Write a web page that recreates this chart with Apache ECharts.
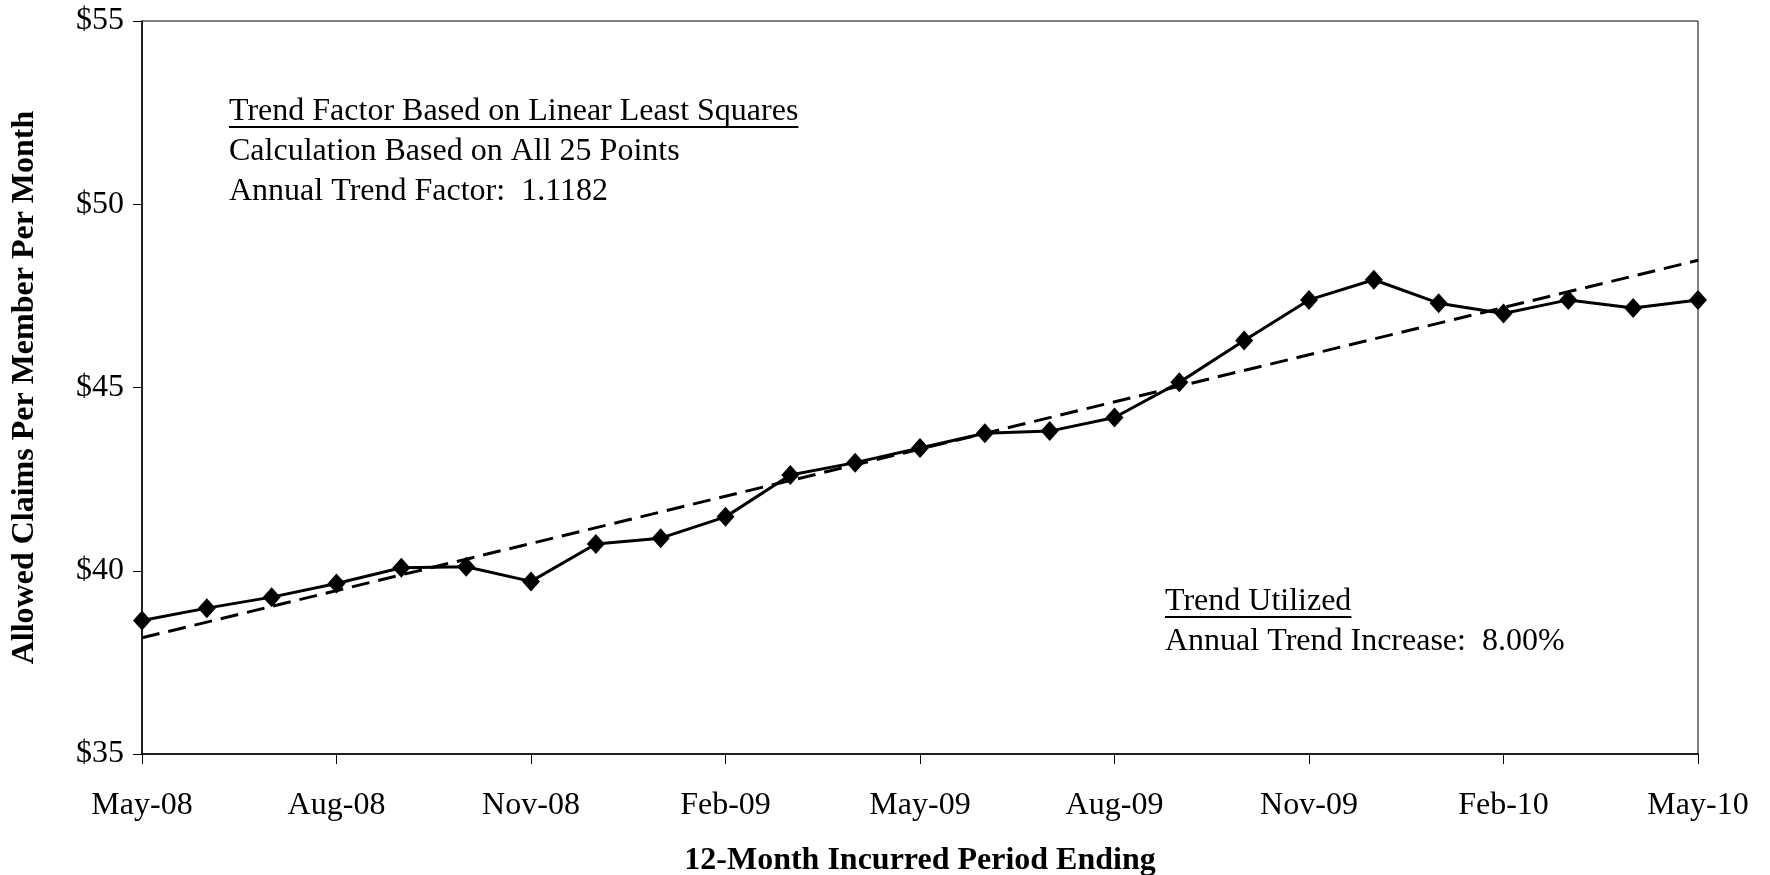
<!DOCTYPE html>
<html>
<head>
<meta charset="utf-8">
<script src="https://cdn.jsdelivr.net/npm/echarts@6/dist/echarts.min.js"></script>
<style>
html,body{margin:0;padding:0;background:#fff;}
#chart{width:1770px;height:875px;}
</style>
</head>
<body>
<div id="chart"></div>
<script>
// ---- data ----
const months = ['May-08','Jun-08','Jul-08','Aug-08','Sep-08','Oct-08','Nov-08','Dec-08','Jan-09','Feb-09','Mar-09','Apr-09','May-09','Jun-09','Jul-09','Aug-09','Sep-09','Oct-09','Nov-09','Dec-09','Jan-10','Feb-10','Mar-10','Apr-10','May-10'];
const pmpm = [38.64,38.98,39.28,39.65,40.08,40.11,39.71,40.73,40.89,41.47,42.61,42.95,43.35,43.75,43.81,44.18,45.14,46.28,47.39,47.94,47.30,47.02,47.39,47.17,47.39];
const trendStart = ['May-08', 38.17];
const trendEnd = ['May-10', 48.47];
const yTicks = [35, 40, 45, 50, 55];
const noteTop = ['Trend Factor Based on Linear Least Squares', 'Calculation Based on All 25 Points', 'Annual Trend Factor:  1.1182'];
const noteBottom = ['Trend Utilized', 'Annual Trend Increase:  8.00%'];

// ---- layout ----
const FONT = '"Liberation Serif", "Times New Roman", serif';
const FS = 32;
const ctx = document.createElement('canvas').getContext('2d');
ctx.font = FS + 'px ' + FONT;
const w1 = ctx.measureText(noteTop[0]).width;
const w2 = ctx.measureText(noteBottom[0]).width;

function txt(x, y, s) {
  return {type:'text', left:x, top:y, style:{text:s, font: FS + 'px ' + FONT, fill:'#000'}, z:10};
}
function uline(x, y, w) {
  return {type:'line', shape:{x1:x, y1:y, x2:x+w, y2:y}, style:{stroke:'#000', lineWidth:2}, z:10};
}

const chart = echarts.init(document.getElementById('chart'));
chart.setOption({
  animation:false,
  backgroundColor:'#fff',
  grid:{left:142, right:72, top:21, bottom:121, show:true, borderColor:'#000', borderWidth:1, containLabel:false, outerBoundsMode:'none'},
  xAxis:{
    type:'category', data:months, boundaryGap:false,
    axisLine:{lineStyle:{color:'#000', width:1.5}},
    axisTick:{show:true, interval:2, length:10, lineStyle:{color:'#000', width:1}},
    axisLabel:{interval:2, color:'#000', fontFamily:FONT, fontSize:FS, margin:36},
    name:'12-Month Incurred Period Ending', nameLocation:'middle', nameGap:91,
    nameTextStyle:{color:'#000', fontFamily:FONT, fontSize:32, fontWeight:'bold'}
  },
  yAxis:{
    type:'value', min:yTicks[0], max:yTicks[yTicks.length-1], interval:5,
    axisLine:{show:true, lineStyle:{color:'#000', width:1.5}},
    axisTick:{show:true, length:9, lineStyle:{color:'#000', width:1}},
    splitLine:{show:false},
    axisLabel:{color:'#000', fontFamily:FONT, fontSize:FS, margin:18, formatter:v => '$' + v},
    name:'Allowed Claims Per Member Per Month', nameLocation:'middle', nameGap:101,
    nameTextStyle:{color:'#000', fontFamily:FONT, fontSize:32, fontWeight:'bold'}
  },
  series:[
    {type:'line', data:[trendStart, trendEnd], symbol:'none', lineStyle:{color:'#000', width:3, type:[18,9]}, z:2},
    {type:'line', data:pmpm, symbol:'diamond', symbolSize:[18,20], itemStyle:{color:'#000'}, lineStyle:{color:'#000', width:3}, z:3}
  ],
  graphic:[
    txt(229, 96, noteTop[0]), uline(229, 127, w1),
    txt(229, 136, noteTop[1]),
    txt(229, 176, noteTop[2]),
    txt(1165, 586, noteBottom[0]), uline(1165, 617, w2),
    txt(1165, 626, noteBottom[1])
  ]
});
</script>
</body>
</html>
